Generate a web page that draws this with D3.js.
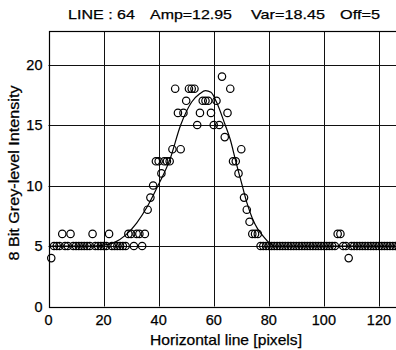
<!DOCTYPE html>
<html>
<head>
<meta charset="utf-8">
<script src="https://cdn.jsdelivr.net/npm/d3@7"></script>
<style>
  html, body { margin: 0; padding: 0; background: #fff; }
  svg { display: block; }
  text { font-family: "Liberation Sans", Arial, sans-serif; fill: #000; stroke: #000; stroke-width: 0.25px; }
</style>
</head>
<body>
<div id="main"></div>
<script>
"use strict";

// grey level of every pixel along line 64 (pixel 1 .. 128)
const lineIntensity = [
    4, 5, 5, 5, 6, 5, 5, 6, 5, 5, 5, 5, 5, 5, 5, 6,
    5, 5, 5, 5, 5, 6, 5, 5, 5, 5, 5, 5, 6, 6, 5, 6,
    6, 5, 6, 8, 9, 10, 12, 12, 11, 12, 12, 12, 13, 18, 16, 13,
    16, 17, 18, 18, 18, 15, 16, 17, 17, 17, 16, 15, 17, 15, 19, 14,
    16, 18, 12, 12, 11, 13, 9, 8, 7, 6, 6, 6, 5, 5, 5, 5,
    5, 5, 5, 5, 5, 5, 5, 5, 5, 5, 5, 5, 5, 5, 5, 5,
    5, 5, 5, 5, 5, 5, 5, 5, 6, 6, 5, 5, 4, 5, 5, 5,
    5, 5, 5, 5, 5, 5, 5, 5, 5, 5, 5, 5, 5, 5, 5, 5
];

// fitted gaussian
const fitX = [1, 16, 20, 24, 28, 32, 36, 40, 44, 48, 52, 55, 57, 59, 61, 64, 66, 68, 70, 72, 74, 76, 78, 80, 82, 128];
const fitY = [5, 5, 5.08, 5.3, 5.9, 6.9, 8.3, 10.1, 12.1, 15.0, 16.9, 17.6, 17.85, 17.7, 16.9, 15.1, 13.8, 12.0, 10.3, 8.6, 7.3, 6.4, 5.8, 5.3, 5.0, 5];

const xTicks = [0, 20, 40, 60, 80, 100, 120];
const yTicks = [0, 5, 10, 15, 20];
// title is four groups with wide gaps between them
const titleParts = ["LINE : 64", "Amp=12.95", "Var=18.45", "Off=5"];

function draw() {
    const width = 396, height = 350;
    const svg = d3.select("#main").append("svg")
        .attr("width", width)
        .attr("height", height);

    // right border of the axes sits just outside the picture
    const x = d3.scaleLinear().domain([0, 128]).range([48.5, 401]);
    const y = d3.scaleLinear().domain([0, 22.77]).range([306.5, 31]);

    const grid = svg.append("g").attr("stroke", "#111").attr("stroke-width", 1);
    grid.selectAll("line.vx")
        .data(xTicks.slice(1))
        .join("line")
        .attr("x1", d => Math.round(x(d)) + 0.5).attr("x2", d => Math.round(x(d)) + 0.5)
        .attr("y1", y.range()[0]).attr("y2", y.range()[1]);
    grid.selectAll("line.hy")
        .data(yTicks.slice(1))
        .join("line")
        .attr("x1", x.range()[0]).attr("x2", x.range()[1])
        .attr("y1", d => Math.round(y(d)) + 0.5).attr("y2", d => Math.round(y(d)) + 0.5);

    // axes box
    svg.append("rect")
        .attr("x", Math.round(x.range()[0]) + 0.5)
        .attr("y", Math.round(y.range()[1]) + 0.5)
        .attr("width", x.range()[1] - x.range()[0])
        .attr("height", Math.round(y.range()[0]) - Math.round(y.range()[1]))
        .attr("fill", "none")
        .attr("stroke", "#000")
        .attr("stroke-width", 1.2);

    // tick labels
    svg.append("g").selectAll("text")
        .data(yTicks)
        .join("text")
        .attr("x", x.range()[0] - 6)
        .attr("y", d => y(d))
        .attr("dy", "0.36em")
        .attr("text-anchor", "end")
        .style("font-size", "14.5px")
        .text(d => d);
    svg.append("g").selectAll("text")
        .data(xTicks)
        .join("text")
        .attr("x", d => x(d))
        .attr("y", 325)
        .attr("text-anchor", "middle")
        .style("font-size", "14.5px")
        .text(d => d);

    // fitted curve
    const line = d3.line()
        .x(d => x(d[0]))
        .y(d => y(d[1]))
        .curve(d3.curveMonotoneX);
    svg.append("path")
        .datum(fitX.map((v, i) => [v, fitY[i]]))
        .attr("d", line)
        .attr("fill", "none")
        .attr("stroke", "#000")
        .attr("stroke-width", 1.2);

    // measured pixels as open circles
    svg.append("g").selectAll("circle")
        .data(lineIntensity)
        .join("circle")
        .attr("cx", (d, i) => x(i + 1))
        .attr("cy", d => y(d))
        .attr("r", 3.7)
        .attr("fill", "none")
        .attr("stroke", "#000")
        .attr("stroke-width", 1.2);

    // title groups: left edge and width of each as seen in the scan
    const titleLeft = [68, 150, 251, 340];
    const titleWidth = [67, 82, 74, 40];
    svg.append("g").selectAll("text")
        .data(titleParts)
        .join("text")
        .attr("x", (d, i) => titleLeft[i])
        .attr("y", 19)
        .attr("textLength", (d, i) => titleWidth[i])
        .attr("lengthAdjust", "spacingAndGlyphs")
        .style("font-size", "13.5px")
        .text(d => d);

    svg.append("text")
        .attr("x", 226)
        .attr("y", 345)
        .attr("text-anchor", "middle")
        .attr("textLength", 152)
        .attr("lengthAdjust", "spacingAndGlyphs")
        .style("font-size", "14.5px")
        .text("Horizontal line [pixels]");
    svg.append("text")
        .attr("transform", "translate(19,173) rotate(-90)")
        .attr("text-anchor", "middle")
        .attr("textLength", 175)
        .attr("lengthAdjust", "spacingAndGlyphs")
        .style("font-size", "14.5px")
        .text("8 Bit Grey-level Intensity");
}

draw();
</script>
</body>
</html>
